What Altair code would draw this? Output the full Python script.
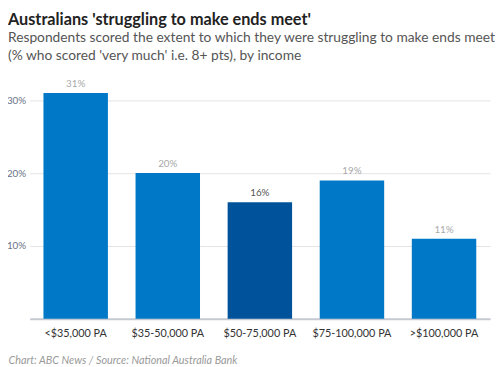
import altair as alt
import pandas as pd

categories = ["<$35,000 PA", "$35-50,000 PA", "$50-75,000 PA", "$75-100,000 PA", ">$100,000 PA"]
values = [31, 20, 16, 19, 11]
highlight = [False, False, True, False, False]

df = pd.DataFrame({"cat": categories, "val": values, "hl": highlight})
df["label"] = df["val"].astype(str) + "%"

FONT = "Lato"

base = alt.Chart(df).encode(
    x=alt.X("cat:N", sort=categories,
            scale=alt.Scale(paddingInner=0.3, paddingOuter=0.15),
            axis=alt.Axis(title="Chart: ABC News / Source: National Australia Bank",
                          titleAnchor="start", titleAlign="left", titleX=-22, titleY=36,
                          titleFont=FONT, titleFontStyle="italic", titleFontWeight="normal",
                          titleFontSize=11, titleColor="#9a9a9a",
                          labelAngle=0, labelFont=FONT, labelFontSize=11, labelColor="#333333",
                          labelPadding=9, ticks=False, domainColor="#c5c9d1", domainWidth=2)),
)

bars = base.mark_bar().encode(
    y=alt.Y("val:Q", scale=alt.Scale(domain=[0, 32], nice=False),
            axis=alt.Axis(title=None, values=[10, 20, 30], labelExpr="datum.value + '%'",
                          labelFont=FONT, labelFontSize=10, labelColor="#6b7285",
                          labelPadding=4, ticks=False, domain=False,
                          gridColor="#e3e3e3", gridWidth=1)),
    color=alt.Color("hl:N", scale=alt.Scale(domain=[False, True], range=["#0078c8", "#00539b"]), legend=None),
)

text = base.mark_text(dy=-9, font=FONT, fontSize=10).encode(
    y=alt.Y("val:Q"),
    text="label:N",
    color=alt.Color("hl:N", scale=alt.Scale(domain=[False, True], range=["#a8a8a8", "#555555"]), legend=None),
)

chart = alt.layer(bars, text).resolve_scale(color="independent").properties(
    width=468, height=237,
    autosize=alt.AutoSizeParams(type="none"),
    padding={"left": 22, "top": 76, "right": 5, "bottom": 46},
    title=alt.TitleParams(
        text="Australians 'struggling to make ends meet'",
        subtitle=["Respondents scored the extent to which they were struggling to make ends meet",
                  "(% who scored 'very much' i.e. 8+ pts), by income"],
        anchor="start", frame="group", dx=-22, font=FONT, fontSize=16.5, fontWeight="bold",
        color="#222222", subtitleFont=FONT, subtitleFontSize=14, subtitleColor="#555555",
        subtitlePadding=3, subtitleLineHeight=18, offset=17,
    ),
).configure_view(stroke=None)

chart.save("out.html", embed_options={"renderer": "svg", "actions": False})
